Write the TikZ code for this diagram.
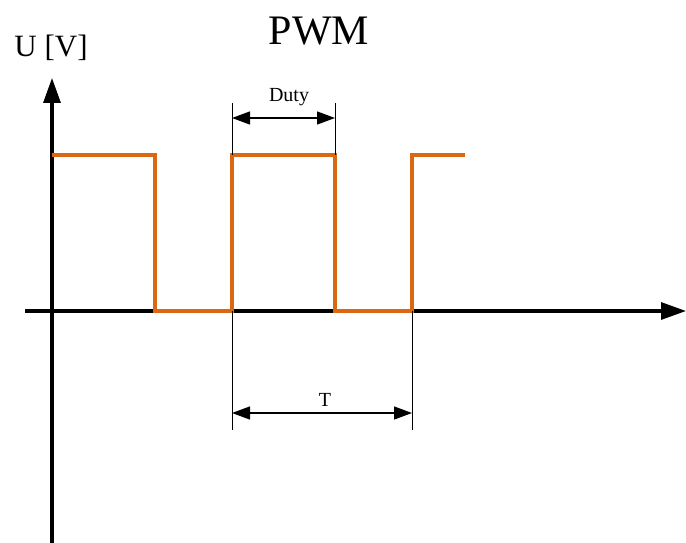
\documentclass[tikz,border=0pt]{standalone}
\usepackage{fontspec}
\setmainfont{Liberation Serif}
\usetikzlibrary{arrows.meta}

\definecolor{pwmorange}{RGB}{218,104,18}

\tikzset{
    axis/.style={line width=3.2pt,-{Triangle[length=25pt,width=17pt]}},
    signal/.style={line width=4pt,pwmorange},
    dim/.style={line width=1.3pt,{Triangle[length=18pt,width=13pt]}-{Triangle[length=18pt,width=13pt]}},
    ext/.style={line width=1pt},
}

\begin{document}
\begin{tikzpicture}[x=1pt,y=-1pt]
    \useasboundingbox (0,0) rectangle (686,543);

    % axes
    \coordinate (ybot) at (52,543);
    \coordinate (ytop) at (52,78);
    \coordinate (xleft) at (25,311);
    \coordinate (xright) at (686,311);
    \draw[axis](ybot)--(ytop);
    \draw[axis](xleft)--(xright);

    \node[anchor=base,font=\fontsize{31}{31}\selectfont](ulabel)at(51,57){U [V]};
    \node[anchor=base,font=\fontsize{42}{42}\selectfont](title)at(319,45){PWM};

    % square wave
    \coordinate (s0) at (52,155);
    \coordinate (s1) at (155,155);
    \coordinate (s2) at (155,311);
    \coordinate (s3) at (232,311);
    \coordinate (s4) at (232,155);
    \coordinate (s5) at (335,155);
    \coordinate (s6) at (335,311);
    \coordinate (s7) at (412,311);
    \coordinate (s8) at (412,155);
    \coordinate (s9) at (465,155);
    \draw[signal,line join=miter](s0)--(s1)--(s2)--(s3)--(s4)--(s5)--(s6)--(s7)--(s8)--(s9);

    % duty cycle
    \coordinate (d1) at (232,103);
    \coordinate (d2) at (335,103);
    \draw[ext](d1)--(s4);
    \draw[ext](d2)--(s5);
    \coordinate (da) at (232,118);
    \coordinate (db) at (335,118);
    \draw[dim](da)--(db);
    \node[anchor=base,font=\fontsize{20}{20}\selectfont](duty)at(289,102){Duty};

    % period
    \coordinate (t1) at (232,430);
    \coordinate (t2) at (412,430);
    \draw[ext](s3)--(t1);
    \draw[ext](s7)--(t2);
    \coordinate (ta) at (232,413);
    \coordinate (tb) at (412,413);
    \draw[dim](ta)--(tb);
    \node[anchor=base,font=\fontsize{20}{20}\selectfont](period)at(325,406){T};
\end{tikzpicture}
\end{document}
